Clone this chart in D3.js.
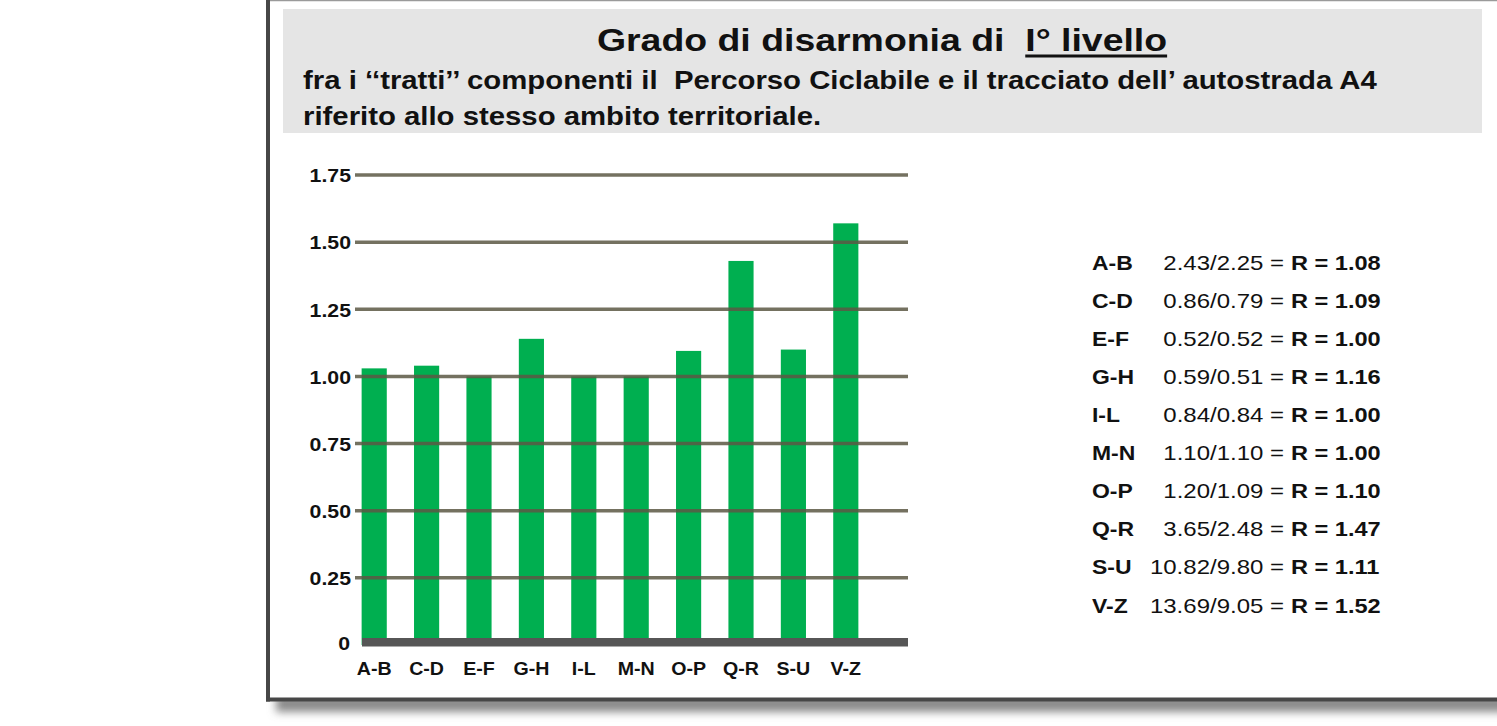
<!DOCTYPE html>
<html>
<head>
<meta charset="utf-8">
<script src="https://cdn.jsdelivr.net/npm/d3@7"></script>
<style>
  html, body { margin: 0; padding: 0; background: #fff; }
  svg { display: block; font-family: "Liberation Sans", Arial, sans-serif; }
  text { white-space: pre; }
</style>
</head>
<body>
<script>
'use strict';

// segment pairs along the cycle path
const categories = ["A-B", "C-D", "E-F", "G-H", "I-L", "M-N", "O-P", "Q-R", "S-U", "V-Z"];
// bar heights as drawn in the picture
const barValues = [1.03, 1.04, 1.00, 1.14, 1.00, 1.00, 1.095, 1.43, 1.10, 1.57];
// y ticks
const yTicks = [0, 0.25, 0.5, 0.75, 1.0, 1.25, 1.5, 1.75];
// right hand table: lengths (path / motorway) and ratio R
const lengthRatios = ["2.43/2.25", "0.86/0.79", "0.52/0.52", "0.59/0.51", "0.84/0.84",
  "1.10/1.10", "1.20/1.09", "3.65/2.48", "10.82/9.80", "13.69/9.05"];
const rValues = ["1.08", "1.09", "1.00", "1.16", "1.00", "1.00", "1.10", "1.47", "1.11", "1.52"];

const W = 1497, H = 726;
const SX = 1.2; // the picture is stretched sideways, so is the text

const svg = d3.select("body").append("svg")
  .attr("width", W)
  .attr("height", H);

// ---- frame and shadow ----
const defs = svg.append("defs");
defs.append("filter").attr("id", "blur")
  .attr("x", "-5%").attr("y", "-100%").attr("width", "110%").attr("height", "300%")
  .append("feGaussianBlur").attr("stdDeviation", 4);

svg.append("rect")
  .attr("x", 276).attr("y", 695)
  .attr("width", 1300).attr("height", 17)
  .attr("fill", "#8a8a8a")
  .attr("filter", "url(#blur)");

svg.append("rect")
  .attr("x", 268).attr("y", 1)
  .attr("width", W - 268).attr("height", 698)
  .attr("fill", "#fff");

svg.append("line")
  .attr("x1", 268).attr("x2", W)
  .attr("y1", 0.5).attr("y2", 0.5)
  .attr("stroke", "#9a9a9a").attr("stroke-width", 1.5);

svg.append("rect")
  .attr("x", 266).attr("y", 0)
  .attr("width", 4).attr("height", 701.5)
  .attr("fill", "#474747");

svg.append("rect")
  .attr("x", 266).attr("y", 697.5)
  .attr("width", W - 266).attr("height", 4)
  .attr("fill", "#474747");

// ---- header box ----
svg.append("rect")
  .attr("x", 283).attr("y", 9)
  .attr("width", 1199).attr("height", 124)
  .attr("fill", "#e5e5e5");

const titleG = svg.append("g")
  .attr("transform", `translate(882,51) scale(1.17,1)`);
const title = titleG.append("text")
  .attr("text-anchor", "middle")
  .style("font-size", "32px")
  .style("font-weight", "bold")
  .attr("fill", "#111")
  .text("Grado di disarmonia di  I\u00b0 livello");

// underline "I° livello"
const tNode = title.node();
const tStr = tNode.textContent;
const iStart = tStr.indexOf("I\u00b0");
const ulX1 = tNode.getStartPositionOfChar(iStart).x;
const ulX2 = tNode.getEndPositionOfChar(tStr.length - 1).x;
titleG.append("line")
  .attr("x1", ulX1).attr("x2", ulX2)
  .attr("y1", 5).attr("y2", 5)
  .attr("stroke", "#111").attr("stroke-width", 3);

const subLines = [
  "fra i \u2018\u2018tratti\u2019\u2019 componenti il  Percorso Ciclabile e il tracciato dell\u2019 autostrada A4",
  "riferito allo stesso ambito territoriale."
];
subLines.forEach((s, i) => {
  svg.append("g")
    .attr("transform", `translate(303,${89 + i * 36}) scale(1.16,1)`)
    .append("text")
    .style("font-size", "25.3px")
    .style("font-weight", "bold")
    .attr("fill", "#111")
    .text(s);
});

// ---- bar chart ----
const x = d3.scaleBand()
  .domain(categories)
  .range([348, 872])
  .paddingInner(0.52)
  .paddingOuter(0.26);

const y = d3.scaleLinear()
  .domain([0, 1.75])
  .range([645, 175]);

const gridLeft = 355, gridRight = 908;

// bars
svg.append("g").selectAll("rect")
  .data(barValues)
  .enter()
  .append("rect")
  .attr("x", (d, i) => x(categories[i]))
  .attr("y", d => y(d))
  .attr("width", x.bandwidth())
  .attr("height", d => y(0) - y(d))
  .attr("fill", "#00af50");

// gridlines, drawn over the bars
svg.append("g").selectAll("line")
  .data(yTicks.filter(d => d > 0))
  .enter()
  .append("line")
  .attr("x1", gridLeft).attr("x2", gridRight)
  .attr("y1", d => y(d)).attr("y2", d => y(d))
  .attr("stroke", "#5c5844")
  .attr("stroke-opacity", 0.85)
  .attr("stroke-width", 3.5);

// zero line (thick dark band)
svg.append("rect")
  .attr("x", 362).attr("y", y(0) - 7)
  .attr("width", gridRight - 362).attr("height", 8.5)
  .attr("fill", "#565656");

// y axis labels
const tickSX = 1.12;
const yAxis = d3.axisLeft(y)
  .tickValues(yTicks)
  .tickSize(0)
  .tickFormat(d => d === 0 ? "0" : d3.format(".2f")(d));
const yAxisG = svg.append("g")
  .attr("transform", `translate(${gridLeft},0)`)
  .call(yAxis);
yAxisG.select(".domain").remove();
yAxisG.selectAll("text")
  .attr("x", -4 / tickSX)
  .attr("dy", "0.36em")
  .attr("transform", `scale(${tickSX},1)`)
  .attr("fill", "#111")
  .style("font-size", "19px")
  .style("font-weight", "bold")
  .style("font-family", "Liberation Sans, Arial, sans-serif");
yAxisG.selectAll(".tick")
  .filter(d => d === 0)
  .select("text")
  .attr("x", -5 / tickSX)
  .attr("dy", "0.25em");

// x axis labels
const labSX = 1.06;
const xAxis = d3.axisBottom(x).tickSize(0);
const xAxisG = svg.append("g")
  .attr("transform", `translate(0,${y(0)})`)
  .call(xAxis);
xAxisG.select(".domain").remove();
xAxisG.selectAll("text")
  .attr("y", 30)
  .attr("dy", 0)
  .attr("transform", `scale(${labSX},1)`)
  .attr("fill", "#111")
  .style("font-size", "18.5px")
  .style("font-weight", "bold")
  .style("font-family", "Liberation Sans, Arial, sans-serif");
// the tick groups already translate by x, scaling text keeps it centred

// ---- right hand table ----
const rowY = d3.scaleLinear().domain([0, 9]).range([269.5, 612.5]);
const table = svg.append("g");
const rows = table.selectAll("g.row")
  .data(categories)
  .enter()
  .append("g")
  .attr("class", "row");

rows.append("g")
  .attr("transform", (d, i) => `translate(1092,${rowY(i)}) scale(1.12,1)`)
  .append("text")
  .style("font-size", "20.5px")
  .style("font-weight", "bold")
  .attr("fill", "#111")
  .text(d => d);

rows.append("g")
  .attr("transform", (d, i) => `translate(1284,${rowY(i)}) scale(${SX},1)`)
  .append("text")
  .attr("text-anchor", "end")
  .style("font-size", "20px")
  .attr("fill", "#111")
  .text((d, i) => lengthRatios[i] + " =");

rows.append("g")
  .attr("transform", (d, i) => `translate(1291,${rowY(i)}) scale(1.15,1)`)
  .append("text")
  .style("font-size", "20.5px")
  .style("font-weight", "bold")
  .attr("fill", "#111")
  .text((d, i) => "R = " + rValues[i]);
</script>
</body>
</html>
